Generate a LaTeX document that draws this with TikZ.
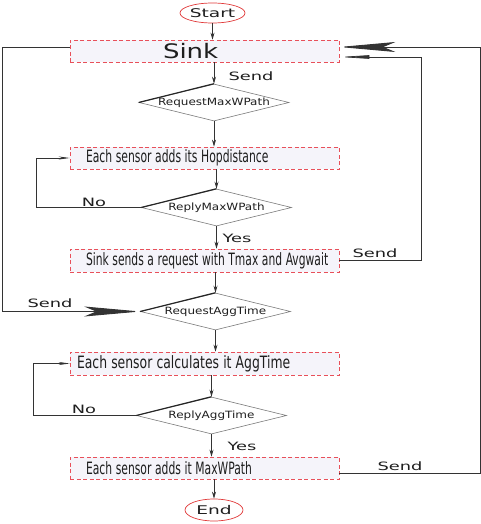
\documentclass[tikz,border=0pt]{standalone}
\usepackage{graphicx}
\usepackage{fontspec}
\setmainfont{DejaVu Sans}
\newfontfamily\lblfont{DejaVu Sans}[FakeStretch=1.55]
\newfontfamily\dfont{DejaVu Sans}[FakeStretch=1.2]
\newfontfamily\sinkfont{DejaVu Sans}[FakeStretch=1.3]
\newcommand\condtxt[2]{\scalebox{#1}[1]{#2}}
\usetikzlibrary{shapes.geometric,arrows.meta}
\definecolor{boxfill}{HTML}{F5F4FA}
\definecolor{boxline}{HTML}{E8505A}
\definecolor{lineC}{HTML}{333333}
\definecolor{dline}{HTML}{7A7A7A}
\definecolor{txt}{HTML}{1E1E1E}
\definecolor{termred}{HTML}{E03838}
\tikzset{
  procbox/.style={draw=boxline, dash pattern=on 4pt off 2.5pt, line width=0.7pt, fill=boxfill,
    minimum height=22pt, align=left, inner ysep=0pt, font=\fontsize{17}{19}\selectfont, text=txt, anchor=center},
  decbox/.style={shape=diamond, draw=dline, line width=0.6pt, minimum width=150pt, minimum height=37pt, inner sep=0pt},
  dtext/.style={font=\dfont\fontsize{10}{12}\selectfont, text=txt, inner sep=0pt},
  term/.style={shape=ellipse, draw=termred, line width=0.7pt, inner sep=0pt, font=\lblfont\fontsize{12}{14}\selectfont, text=txt},
  lbl/.style={font=\lblfont\fontsize{11.5}{13}\selectfont, text=txt, inner sep=0pt},
  conn/.style={draw=lineC, line width=0.7pt},
  arr/.style={conn, -{Stealth[length=7pt,width=4pt]}},
  longarr/.style={conn, -{Stealth[length=11pt,width=3pt]}},
  bigarr/.style={conn, line width=0.9pt, -{Stealth[length=56pt,width=10pt,inset=12pt]}},
  taperarr/.style={conn, -{Stealth[length=30pt,width=3.5pt,inset=0pt]}},
  edgeshade/.style={draw=black!85, line width=1.2pt}
}
\begin{document}
\begin{tikzpicture}[x=1pt,y=-1pt]
\useasboundingbox (0,0) rectangle (481,524);

% terminals
\node[term, minimum width=65pt, minimum height=20pt] (start) at (212.5,13) {Start};
\node[term, minimum width=58pt, minimum height=22pt] (end) at (214,510) {End};

% process boxes
\node[procbox, minimum width=269pt, text width=83pt, inner xsep=93pt, font=\sinkfont\fontsize{20}{22}\selectfont] (sink) at (204.5,51) {Sink};
\node[procbox, minimum width=269pt, text width=237pt, inner xsep=16pt] (box2) at (204.5,158) {\condtxt{0.635}{Each sensor adds its Hopdistance}};
\node[procbox, minimum width=269pt, text width=237pt, inner xsep=16pt, minimum height=23pt] (box3) at (204.5,260.5) {\condtxt{0.632}{Sink sends a request with Tmax and Avgwait}};
\node[procbox, minimum width=269pt, text width=255pt, inner xsep=7pt, minimum height=23pt] (box4) at (204.5,363.5) {\condtxt{0.73}{Each sensor calculates it AggTime}};
\node[procbox, minimum width=269pt, text width=237pt, inner xsep=16pt] (box5) at (204.5,468) {\condtxt{0.634}{Each sensor adds it MaxWPath}};

% decisions
\node[decbox, label={[dtext]center:RequestMaxWPath}] (d1) at (214,102.5) {};
\node[decbox, label={[dtext]center:ReplyMaxWPath}] (d2) at (216.5,207.5) {};
\node[decbox, label={[dtext]center:RequestAggTime}] (d3) at (215.5,311.5) {};
\node[decbox, label={[dtext]center:ReplyAggTime}] (d4) at (211.5,415.5) {};
\foreach \d in {d1,d2,d3,d4} { \draw[edgeshade] (\d.west) -- (\d.north); }

% main flow
\draw[arr] (start.south) -- (start.south |- sink.north);
\draw[arr] (sink.south -| d1.north) -- (d1.north);
\draw[arr] (d1.south) -- (d1.south |- box2.north);
\draw[arr] (box2.south -| d2.north) -- (d2.north);
\draw[arr] (d2.south) -- (d2.south |- box3.north);
\draw[arr] (box3.south -| d3.north) -- (d3.north);
\draw[arr] (d3.south) -- (d3.south |- box4.north);
\draw[arr] (box4.south -| d4.north) -- (d4.north);
\draw[arr] (d4.south) -- (d4.south |- box5.north);
\draw[arr] (box5.south -| end.north) -- (end.north);

% loops
\draw[longarr] (d2.west) -- ++(-105,0) |- (box2.west);
\draw[longarr] (d4.west) -- ++(-103,0) |- (box4.west);
\draw[taperarr] (box3.east) -- ++(82,0) |- ([yshift=-6pt]sink.east);
\draw[bigarr] ([yshift=-5pt]box5.east) -- ++(141,0) |- ([yshift=4pt]sink.east);
\draw[bigarr] ([yshift=4pt]sink.west) -- ++(-67,0) |- (d3.west);

% labels
\node[lbl] (lsend1) at (251,76) {Send};
\node[lbl] (lno1) at (94,202) {No};
\node[lbl] (lyes1) at (237,238) {Yes};
\node[lbl] (lsend2) at (375,253) {Send};
\node[lbl] (lsend3) at (50,303) {Send};
\node[lbl] (lno2) at (84,409) {No};
\node[lbl] (lyes2) at (242,446) {Yes};
\node[lbl] (lsend4) at (400,466) {Send};
\end{tikzpicture}
\end{document}
